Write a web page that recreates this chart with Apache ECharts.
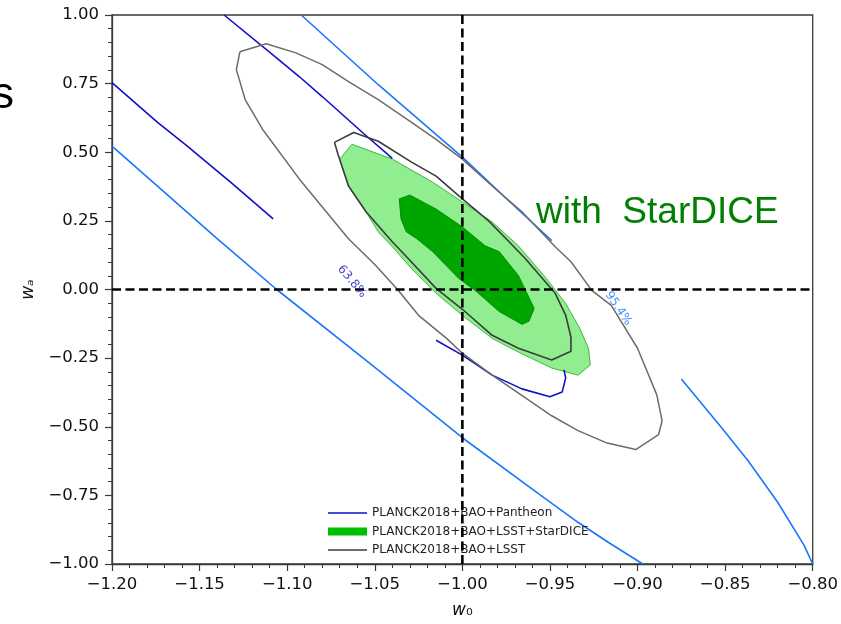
<!DOCTYPE html>
<html>
<head>
<meta charset="utf-8">
<title>w0-wa constraints</title>
<script src="https://cdn.jsdelivr.net/npm/echarts@6/dist/echarts.min.js"></script>
<style>
  html, body { margin: 0; padding: 0; background: #fff; }
  #chart { width: 841px; height: 624px; }
</style>
</head>
<body>
<div id="chart"></div>
<script>
// Axis ranges and tick labels
const xMin = -1.2, xMax = -0.8, xStep = 0.05;
const yMin = -1.0, yMax = 1.0, yStep = 0.25;
const xTickLabels = ['\u22121.20', '\u22121.15', '\u22121.10', '\u22121.05', '\u22121.00', '\u22120.95', '\u22120.90', '\u22120.85', '\u22120.80'];
const yTickLabels = ['\u22121.00', '\u22120.75', '\u22120.50', '\u22120.25', '0.00', '0.25', '0.50', '0.75', '1.00'];

// Reference (LambdaCDM) values
const refW0 = -1.0;
const refWa = 0.0;

// PLANCK2018+BAO+Pantheon, 68% contour pieces  [w0, wa]
const pantheon68Left = [[-1.200, 0.754], [-1.174, 0.609], [-1.157, 0.522], [-1.131, 0.384], [-1.108, 0.257]];
const pantheon68Upper = [[-1.136, 1.000], [-1.104, 0.833], [-1.093, 0.775], [-1.080, 0.703], [-1.057, 0.572], [-1.040, 0.478]];
const pantheon68Lower = [[-1.015, -0.185], [-1.000, -0.239], [-0.983, -0.312], [-0.966, -0.362], [-0.950, -0.391], [-0.943, -0.373], [-0.941, -0.322], [-0.942, -0.293]];

// PLANCK2018+BAO+Pantheon, 95% contour pieces
const pantheon95Left = [[-1.200, 0.522], [-1.140, 0.185], [-1.106, 0.000], [-1.053, -0.268], [-1.000, -0.540], [-0.956, -0.746], [-0.934, -0.848], [-0.917, -0.920], [-0.897, -1.000]];
const pantheon95Upper = [[-1.092, 1.000], [-1.048, 0.746], [-1.000, 0.482], [-0.974, 0.326], [-0.949, 0.178]];
const pantheon95Right = [[-0.875, -0.326], [-0.852, -0.504], [-0.837, -0.623], [-0.820, -0.775], [-0.805, -0.931], [-0.800, -1.000]];

// PLANCK2018+BAO+LSST+StarDICE, filled 95% and 68% regions
const starDice95 = [[-1.070, 0.475], [-1.063, 0.529], [-1.040, 0.475], [-1.017, 0.391], [-1.000, 0.319], [-0.983, 0.246], [-0.968, 0.159], [-0.952, 0.040], [-0.941, -0.051], [-0.933, -0.141], [-0.928, -0.214], [-0.927, -0.275], [-0.934, -0.312], [-0.949, -0.286], [-0.968, -0.228], [-0.983, -0.178], [-1.000, -0.094], [-1.015, -0.014], [-1.029, 0.076], [-1.040, 0.156], [-1.048, 0.210], [-1.055, 0.283], [-1.065, 0.377]];
const starDice68 = [[-1.036, 0.330], [-1.030, 0.344], [-1.015, 0.293], [-1.000, 0.228], [-0.987, 0.159], [-0.979, 0.138], [-0.968, 0.051], [-0.959, -0.069], [-0.962, -0.116], [-0.966, -0.127], [-0.979, -0.080], [-0.992, -0.007], [-1.002, 0.040], [-1.017, 0.138], [-1.026, 0.185], [-1.032, 0.210], [-1.035, 0.257]];

// PLANCK2018+BAO+LSST, 68% and 95% closed contours
const lsst68 = [[-1.073, 0.536], [-1.062, 0.572], [-1.048, 0.540], [-1.029, 0.464], [-1.015, 0.413], [-1.000, 0.330], [-0.985, 0.250], [-0.975, 0.185], [-0.964, 0.112], [-0.947, -0.014], [-0.941, -0.094], [-0.938, -0.174], [-0.938, -0.225], [-0.949, -0.257], [-0.968, -0.214], [-0.983, -0.167], [-1.000, -0.072], [-1.015, 0.004], [-1.032, 0.120], [-1.040, 0.174], [-1.055, 0.283], [-1.065, 0.377], [-1.071, 0.493], [-1.073, 0.536]];
const lsst95 = [[-1.127, 0.866], [-1.112, 0.895], [-1.095, 0.862], [-1.080, 0.819], [-1.065, 0.757], [-1.048, 0.692], [-1.029, 0.609], [-1.015, 0.547], [-1.000, 0.475], [-0.983, 0.377], [-0.966, 0.283], [-0.947, 0.156], [-0.938, 0.101], [-0.926, -0.004], [-0.915, -0.058], [-0.900, -0.214], [-0.889, -0.384], [-0.886, -0.478], [-0.887, -0.504], [-0.888, -0.529], [-0.901, -0.583], [-0.918, -0.558], [-0.934, -0.514], [-0.949, -0.460], [-0.964, -0.395], [-0.983, -0.312], [-1.000, -0.232], [-1.009, -0.178], [-1.025, -0.094], [-1.037, 0.000], [-1.050, 0.091], [-1.065, 0.185], [-1.079, 0.293], [-1.093, 0.402], [-1.114, 0.583], [-1.124, 0.692], [-1.129, 0.801], [-1.127, 0.866]];

// Contour level labels
const levelLabels = [
  { text: '63.8%', at: [-1.063, 0.029], color: '#1010c8', angle: -50 },
  { text: '95.4%', at: [-0.911, -0.069], color: '#1a75ff', angle: -56 }
];

const NAME_PANTHEON = 'PLANCK2018+BAO+Pantheon';
const NAME_STARDICE = 'PLANCK2018+BAO+LSST+StarDICE';
const NAME_LSST = 'PLANCK2018+BAO+LSST';

const FONT = 'DejaVu Sans';

// Legend handle for a plain line: a thin bar centred in a 39x8 box
// (the two zero-area sub-paths only fix the bounding box).
const LINE_HANDLE = 'path://M0,0 L0.01,0 Z M0,3.2 L39,3.2 L39,4.8 L0,4.8 Z M38.99,8 L39,8 Z';

function contourLine(name, pts, color, width) {
  return {
    type: 'line', name: name, data: pts,
    symbol: 'none', showSymbol: false, silent: true, clip: true,
    lineStyle: { color: color, width: width },
    itemStyle: { color: color },
    animation: false
  };
}

function filledRegion(name, pts, fill, edge) {
  return {
    type: 'custom', name: name, data: pts, silent: true, clip: true,
    encode: { x: 0, y: 1 },
    itemStyle: { color: fill },
    animation: false,
    renderItem: function (params, api) {
      if (params.dataIndex !== 0) return null;
      const points = pts.map(function (p) { return api.coord(p); });
      return {
        type: 'polygon',
        shape: { points: points },
        style: { fill: fill, stroke: edge, lineWidth: 1 }
      };
    }
  };
}

function tickFormatter(labels, min, step) {
  return function (v) {
    const i = Math.round((v - min) / step);
    return labels[i] !== undefined ? labels[i] : '';
  };
}

const chart = echarts.init(document.getElementById('chart'), null, { renderer: 'canvas' });

const series = [
  contourLine(NAME_PANTHEON, pantheon68Left, '#1010c8', 1.6),
  contourLine(NAME_PANTHEON, pantheon68Upper, '#1010c8', 1.6),
  contourLine(NAME_PANTHEON, pantheon68Lower, '#1010c8', 1.6),
  contourLine(NAME_PANTHEON, pantheon95Left, '#1a75ff', 1.6),
  contourLine(NAME_PANTHEON, pantheon95Upper, '#1a75ff', 1.6),
  contourLine(NAME_PANTHEON, pantheon95Right, '#1a75ff', 1.6),
  filledRegion(NAME_STARDICE, starDice95, '#90ee90', '#3cb83c'),
  filledRegion(NAME_STARDICE, starDice68, '#00a600', '#008f00'),
  contourLine(NAME_LSST, lsst68, '#3c3c3c', 1.6),
  contourLine(NAME_LSST, lsst95, '#6c6c6c', 1.5),
  {
    type: 'line', name: 'ref-w0', data: [[refW0, yMin], [refW0, yMax]],
    symbol: 'none', silent: true, z: 5, animation: false,
    lineStyle: { color: '#000', width: 2.6, type: [9, 4.5] }
  },
  {
    type: 'line', name: 'ref-wa', data: [[xMin, refWa], [xMax, refWa]],
    symbol: 'none', silent: true, z: 5, animation: false,
    lineStyle: { color: '#000', width: 2.6, type: [9, 4.5] }
  }
];

levelLabels.forEach(function (l) {
  series.push({
    type: 'scatter', name: 'level-' + l.text, data: [l.at],
    symbolSize: 0, silent: true, z: 6, animation: false,
    label: {
      show: true, position: 'inside', formatter: l.text,
      rotate: l.angle, color: l.color, fontFamily: FONT, fontSize: 12
    }
  });
});

const option = {
  backgroundColor: '#ffffff',
  animation: false,
  grid: {
    left: 112, right: 26, top: 15, bottom: 57,
    show: true, borderColor: '#3a3a3a', borderWidth: 1.3, backgroundColor: 'transparent'
  },
  xAxis: {
    type: 'value', min: xMin, max: xMax, interval: xStep,
    name: '{i|w}{n|\u2080}', nameLocation: 'middle', nameGap: 38,
    nameTextStyle: {
      rich: {
        i: { fontFamily: FONT, fontStyle: 'italic', fontSize: 17, color: '#111' },
        n: { fontFamily: FONT, fontSize: 17, color: '#111' }
      }
    },
    axisLine: { show: true, onZero: false, lineStyle: { color: '#3a3a3a', width: 1.3 } },
    axisTick: { show: true, inside: false, length: 7, lineStyle: { color: '#3a3a3a', width: 1.2 } },
    minorTick: { show: true, splitNumber: 5, length: 4, lineStyle: { color: '#3a3a3a', width: 1 } },
    axisLabel: {
      show: true, margin: 12, color: '#111', fontFamily: FONT, fontSize: 16.5,
      showMinLabel: true, showMaxLabel: true,
      formatter: tickFormatter(xTickLabels, xMin, xStep)
    },
    splitLine: { show: false }
  },
  yAxis: {
    type: 'value', min: yMin, max: yMax, interval: yStep,
    name: '{i|w}{n|\u2090}', nameLocation: 'middle', nameGap: 74,
    nameTextStyle: {
      rich: {
        i: { fontFamily: FONT, fontStyle: 'italic', fontSize: 17, color: '#111' },
        n: { fontFamily: FONT, fontStyle: 'italic', fontSize: 17, color: '#111' }
      }
    },
    axisLine: { show: true, onZero: false, lineStyle: { color: '#3a3a3a', width: 1.3 } },
    axisTick: { show: true, inside: false, length: 7, lineStyle: { color: '#3a3a3a', width: 1.2 } },
    minorTick: { show: true, splitNumber: 5, length: 4, lineStyle: { color: '#3a3a3a', width: 1 } },
    axisLabel: {
      show: true, margin: 13, color: '#111', fontFamily: FONT, fontSize: 16.5,
      showMinLabel: true, showMaxLabel: true,
      formatter: tickFormatter(yTickLabels, yMin, yStep)
    },
    splitLine: { show: false }
  },
  legend: {
    show: true, orient: 'vertical', left: 328, top: 506, padding: 0,
    itemWidth: 39, itemHeight: 8, itemGap: 4.5, selectedMode: false,
    textStyle: { fontFamily: FONT, fontSize: 12, color: '#222', lineHeight: 14 },
    data: [
      { name: NAME_PANTHEON, icon: LINE_HANDLE, itemStyle: { color: '#1010c8', borderWidth: 0 } },
      { name: NAME_STARDICE, icon: 'rect', itemStyle: { color: '#00bf00', borderWidth: 0 } },
      { name: NAME_LSST, icon: LINE_HANDLE, itemStyle: { color: '#3c3c3c', borderWidth: 0 } }
    ]
  },
  graphic: [
    {
      type: 'text', x: 536, y: 213, silent: true, z: 10,
      style: {
        text: 'with  StarDICE', fill: '#008000',
        font: '37px "Liberation Sans", Arial, sans-serif',
        textAlign: 'left', textVerticalAlign: 'middle'
      }
    },
    {
      type: 'text', x: -8, y: 96, silent: true, z: 10,
      style: {
        text: 's', fill: '#000',
        font: '44px "Liberation Sans", Arial, sans-serif',
        textAlign: 'left', textVerticalAlign: 'middle'
      }
    }
  ],
  series: series
};

chart.setOption(option);
</script>
</body>
</html>
